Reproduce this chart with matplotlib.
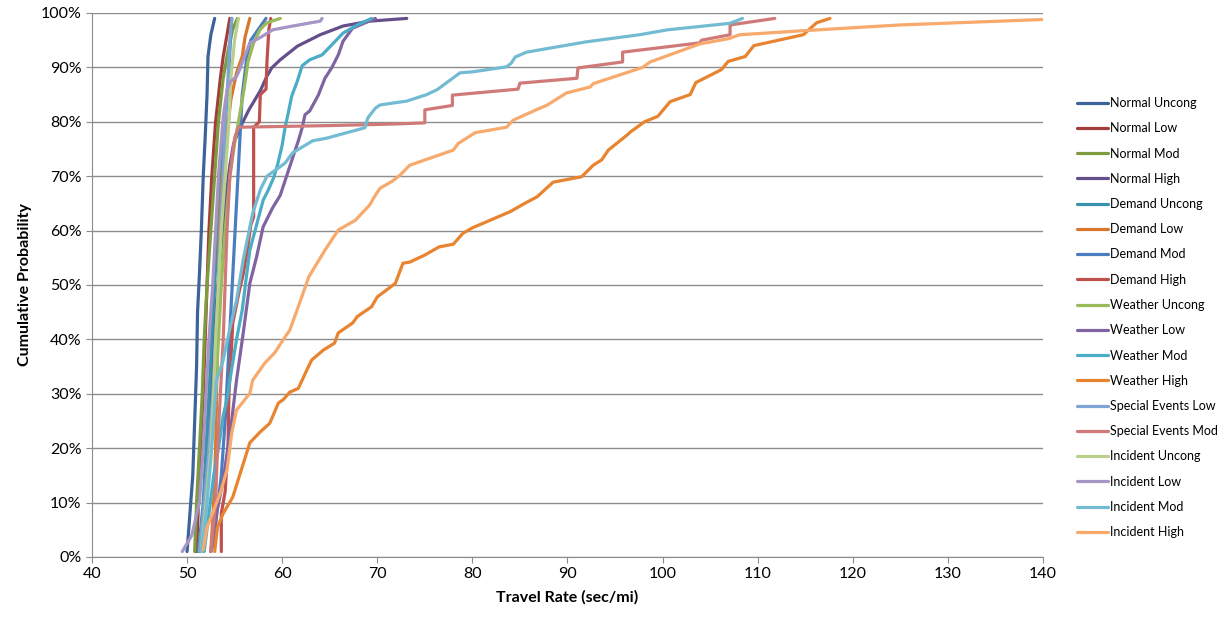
import matplotlib
matplotlib.use("Agg")
import matplotlib.pyplot as plt
from matplotlib.ticker import MultipleLocator, FuncFormatter

plt.rcParams["font.family"] = ["Lato", "DejaVu Sans"]

# travel rate (sec/mi) and cumulative probability (%)
normal_uncong_x = [50.0, 50.3, 50.6, 50.8, 51.0, 51.1, 51.3, 51.5, 51.7, 51.9, 52.1, 52.2, 52.5, 52.9]
normal_uncong_y = [1, 8, 15, 25, 35, 45, 52, 60, 70, 77, 85, 92, 96, 99]

normal_low_x = [51.0, 51.2, 51.4, 51.7, 51.9, 52.1, 52.3, 52.6, 53.0, 53.5, 53.8, 54.2, 54.5]
normal_low_y = [1, 10, 20, 30, 40, 50, 60, 70, 80, 88, 92, 96, 99]

normal_mod_x = [50.8, 51.0, 51.3, 51.6, 51.8, 52.1, 52.5, 52.9, 53.3, 53.8, 54.3, 54.8, 55.3]
normal_mod_y = [1, 10, 20, 30, 40, 50, 60, 70, 80, 88, 93, 97, 99]

normal_high_x = [51.3, 51.7, 52.0, 52.3, 52.7, 53.0, 53.5, 54.0, 54.5, 54.9, 55.6, 56.5, 57.7,
                 58.4, 58.9, 59.8, 61.6, 64.0, 66.4, 69.2, 73.1]
normal_high_y = [1, 8, 15, 25, 35, 45, 55, 65, 72, 76, 79, 82.2, 85.7, 88.4, 89.9, 91.4,
                 93.9, 96, 97.6, 98.5, 99]

demand_uncong_x = [51.2, 51.7, 52.0, 52.3, 52.6, 52.9, 53.2, 53.5, 53.8, 54.3, 54.5, 54.7]
demand_uncong_y = [1, 10, 20, 30, 40, 50, 60, 70, 76, 86, 93, 99]

demand_low_x = [52.5, 52.8, 53.0, 53.1, 53.2, 53.3, 53.4, 53.7, 54.2, 54.6, 55.2, 55.8, 56.1, 56.6]
demand_low_y = [1, 10, 20, 30, 40, 50, 60, 70, 78, 84, 89, 92, 95.6, 99]

demand_mod_x = [52.5, 53.0, 53.6, 54.0, 54.3, 54.6, 54.9, 55.2, 55.5, 55.8, 56.3, 56.7, 57.5, 58.3]
demand_mod_y = [1, 6, 15, 25, 35, 45, 55, 65, 75, 85, 92, 95, 97, 99]

demand_high_x = [53.6, 53.6, 54.0, 54.3, 54.4, 54.6, 54.8, 55.5, 55.9, 56.3, 56.7, 57.0, 57.0,
                 57.6, 57.7, 58.3, 58.4, 58.6, 58.8]
demand_high_y = [1, 8, 12, 20, 30, 36, 43, 49, 52, 56, 61, 62.5, 79, 80, 85, 86, 91, 97, 99]

weather_uncong_x = [51.5, 52.0, 52.5, 53.0, 53.3, 53.6, 54.0, 54.5, 55.0, 55.4, 56.0, 56.4,
                    57.0, 57.7, 58.4, 59.8]
weather_uncong_y = [1, 10, 20, 30, 40, 50, 60, 70, 76, 80, 86, 91, 94.5, 97, 98.2, 99]

weather_low_x = [52.7, 53.1, 53.8, 54.7, 55.2, 55.9, 56.6, 57.3, 58.0, 59.0, 59.8, 60.5, 61.2,
                 61.7, 62.1, 62.4, 62.9, 63.8, 64.5, 65.2, 65.9, 66.4, 67.4, 69.8]
weather_low_y = [1.8, 8.1, 14.1, 25.2, 32.5, 41.1, 50.3, 55.1, 60.7, 64.2, 66.5, 70.2, 73.9,
                 76.5, 78.9, 81.3, 82, 84.9, 88, 89.9, 92.3, 94.8, 97.2, 99]

weather_mod_x = [51.8, 52.3, 52.8, 53.3, 53.8, 54.2, 54.5, 55.2, 55.8, 56.2, 56.6, 57.3, 58.0,
                 58.5, 59.1, 59.5, 60.0, 60.3, 60.6, 61.0, 61.6, 62.1, 62.9, 64.2, 64.7, 66.4,
                 67.9, 69.4]
weather_mod_y = [1, 8, 15, 20, 26, 29, 32.5, 40, 45.4, 51, 56.4, 61, 65.6, 67.3, 69.7, 72,
                 75.7, 78.9, 81.3, 84.7, 87.5, 90.3, 91.4, 92.3, 93.2, 96.3, 97.8, 99]

weather_high_x = [52.9, 53.2, 53.8, 54.8, 56.6, 57.7, 58.7, 59.6, 60.1, 60.8, 61.7, 62.6, 63.1,
                  64.3, 65.5, 65.9, 67.4, 67.9, 69.4, 70.0, 71.9, 72.7, 73.4, 75.0, 76.5, 78.0,
                  79.0, 80.0, 82.0, 84.0, 85.0, 85.5, 86.8, 88.5, 91.5, 92.7, 93.6, 94.3, 96.3,
                  96.6, 98.1, 99.5, 100.8, 102.9, 103.5, 106.2, 106.9, 108.7, 109.6, 114.8,
                  116.2, 117.6]
weather_high_y = [1, 5.5, 8, 11, 21, 23, 24.6, 28.3, 28.9, 30.3, 31, 34.4, 36.2, 38, 39.3,
                  41.2, 43, 44.2, 46, 47.8, 50.3, 54, 54.2, 55.5, 57, 57.5, 59.5, 60.5, 62,
                  63.5, 64.5, 65, 66.2, 68.9, 69.9, 72, 73, 74.8, 77.6, 78.1, 80, 81, 83.7,
                  85, 87.2, 89.6, 91.1, 92, 94, 96, 98.2, 99]

special_low_x = [51.3, 51.8, 52.3, 52.7, 53.0, 53.3, 53.5, 53.8, 54.0, 54.3, 54.5, 54.7]
special_low_y = [1, 10, 20, 30, 40, 50, 60, 70, 80, 88, 95, 99]

special_mod_x = [52.5, 53.0, 53.2, 53.5, 53.8, 54.0, 54.2, 54.5, 55.0, 55.4, 65.0, 72.0, 75.0,
                 75.0, 77.9, 77.9, 84.8, 85.0, 91.0, 91.1, 95.8, 95.8, 103.9, 104.1, 107.1,
                 107.1, 111.8]
special_mod_y = [1, 10, 20, 30, 40, 50, 60, 70, 77, 79, 79.3, 79.6, 79.8, 82.2, 83, 84.9, 86,
                 87.1, 88, 89.9, 91, 92.8, 94.5, 95, 96, 97.8, 99]

incident_uncong_x = [51.5, 52.0, 52.5, 52.8, 53.0, 53.3, 53.6, 54.0, 54.4, 54.6, 55.0, 55.4]
incident_uncong_y = [1, 10, 20, 30, 40, 50, 60, 70, 80, 88, 95, 99]

incident_low_x = [49.5, 50.5, 51.3, 51.7, 52.0, 52.3, 52.7, 53.0, 53.3, 53.8, 54.2, 54.5, 55.2,
                  55.6, 56.1, 56.6, 57.7, 59.0, 61.1, 64.0, 64.2]
incident_low_y = [1, 4, 10, 20, 30, 40, 50, 60, 70, 80.9, 85.8, 87.3, 88.3, 89.9, 92.3, 94.5,
                  95.5, 96.9, 97.6, 98.5, 99]

incident_mod_x = [51.5, 52.0, 52.5, 53.1, 53.8, 54.5, 55.2, 55.9, 56.9, 57.7, 58.4, 60.3, 61.1,
                  63.2, 64.7, 68.7, 69.0, 69.8, 70.3, 73.1, 75.2, 76.3, 78.7, 80.1, 83.6, 84.1,
                  84.5, 85.7, 92.0, 97.6, 100.5, 107.1, 108.4]
incident_mod_y = [1, 8, 18, 32.5, 36.2, 42, 47.2, 54.6, 63.2, 67.5, 70, 72.4, 74.3, 76.5, 77,
                  78.9, 80.7, 82.5, 83.1, 83.8, 85, 85.9, 89, 89.2, 90.1, 90.8, 91.9, 92.8,
                  94.7, 96, 96.9, 98.1, 99]

incident_high_x = [51.7, 52.1, 52.7, 53.5, 54.2, 54.7, 55.2, 56.6, 56.9, 58.2, 59.2, 60.1,
                   60.8, 62.0, 62.8, 64.5, 65.9, 67.7, 69.2, 69.8, 70.3, 71.6, 72.4, 73.4,
                   78.0, 78.5, 80.3, 83.6, 84.3, 87.1, 87.8, 89.9, 92.4, 92.7, 97.9, 98.7,
                   103.9, 107.0, 108.1, 114.4, 125.0, 140.0, 143.0]
incident_high_y = [1.3, 5.5, 8.1, 11.8, 16, 22.8, 27, 30.1, 32.5, 35.7, 37.5, 39.9, 41.7,
                   47.5, 51.5, 56.4, 60.1, 61.9, 64.7, 66.5, 67.8, 69.1, 70.2, 72, 74.8, 76,
                   78, 79, 80.3, 82.5, 83, 85.3, 86.4, 87, 90, 91, 94.3, 95.3, 96, 96.7, 97.8,
                   98.8, 99]

series_names = ["Normal Uncong", "Normal Low", "Normal Mod", "Normal High",
                "Demand Uncong", "Demand Low", "Demand Mod", "Demand High",
                "Weather Uncong", "Weather Low", "Weather Mod", "Weather High",
                "Special Events Low", "Special Events Mod",
                "Incident Uncong", "Incident Low", "Incident Mod", "Incident High"]
series_x = [normal_uncong_x, normal_low_x, normal_mod_x, normal_high_x,
            demand_uncong_x, demand_low_x, demand_mod_x, demand_high_x,
            weather_uncong_x, weather_low_x, weather_mod_x, weather_high_x,
            special_low_x, special_mod_x,
            incident_uncong_x, incident_low_x, incident_mod_x, incident_high_x]
series_y = [normal_uncong_y, normal_low_y, normal_mod_y, normal_high_y,
            demand_uncong_y, demand_low_y, demand_mod_y, demand_high_y,
            weather_uncong_y, weather_low_y, weather_mod_y, weather_high_y,
            special_low_y, special_mod_y,
            incident_uncong_y, incident_low_y, incident_mod_y, incident_high_y]

colors = ["#3C639A", "#A33D3A", "#7E9C3F", "#654F8A", "#3893AC", "#D9782D",
          "#4A7EC0", "#C0504D", "#9BBB59", "#8064A2", "#4BACC6", "#E8842F",
          "#7FA3D4", "#CF7A78", "#B8D08A", "#A796C5", "#73BBD2", "#F8A96C"]

fig = plt.figure(figsize=(12.28, 6.24), dpi=100)
ax = fig.add_axes([0.0749, 0.1074, 0.7744, 0.8718])

for name, xs, ys, c in zip(series_names, series_x, series_y, colors):
    ax.plot(xs, [v / 100 for v in ys], color=c, lw=2.3, label=name,
            solid_joinstyle="round", solid_capstyle="round")

ax.set_xlim(40, 140)
ax.set_ylim(0, 1)
ax.xaxis.set_major_locator(MultipleLocator(10))
ax.yaxis.set_major_locator(MultipleLocator(0.1))
ax.yaxis.set_major_formatter(FuncFormatter(lambda v, p: f"{v * 100:.0f}%"))
ax.grid(axis="y", color="#8C8C8C", lw=1.0)
ax.set_axisbelow(True)

for side in ["top", "right"]:
    ax.spines[side].set_visible(False)
for side in ["left", "bottom"]:
    ax.spines[side].set_color("#8C8C8C")
ax.tick_params(axis="both", colors="#8C8C8C", labelcolor="black", labelsize=11.5,
               length=4, direction="out")

ax.set_xlabel("Travel Rate (sec/mi)", fontsize=11.5, fontweight="bold", labelpad=6)
ax.set_ylabel("Cumulative Probability", fontsize=11.5, fontweight="bold", labelpad=6)

fig.legend(loc="upper left", bbox_to_anchor=(1072 / 1228, 1 - 92 / 624), frameon=False,
           fontsize=9, handlelength=2.5, handletextpad=0.15, labelspacing=1.06,
           borderaxespad=0)

fig.savefig("out.png", dpi=100)
